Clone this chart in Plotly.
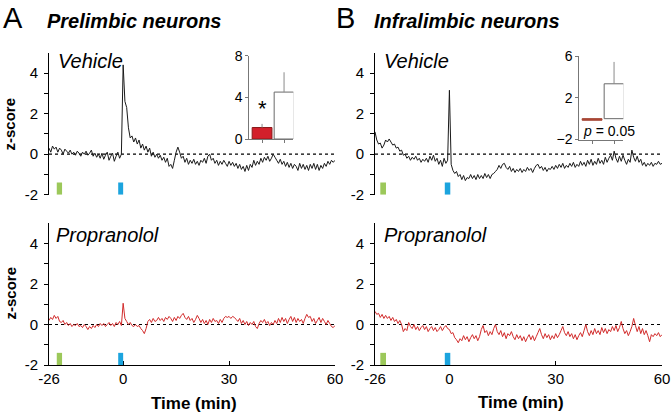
import numpy as np
import plotly.graph_objects as go

# ---------------- data ----------------
# z-score traces sampled every 0.5 min (display time units); pre = before stimulus, post = from 0 onward
tl_pre = [0.3, 0.1, 0.4, 0.25, 0.35, 0.1, 0.3, 0.2, 0.0, 0.25, 0.15, 0.05, 0.2, 0.0, 0.1, -0.05,
          0.15, 0.05, -0.1, 0.1, 0.0, 0.15, -0.05, 0.05, 0.2, -0.1, 0.05, -0.15, 0.0, -0.2, 0.05,
          -0.25, -0.05, 0.1, -0.3, -0.1, 0.05, -0.35, -0.1, 0.1, -0.2, 0.0]
tl_post = [4.4, 2.6, 2.3, 1.3, 0.8, 0.9, 0.6, 0.8, 0.5, 0.7, 0.3, 0.5, 0.2, 0.4, 0.1, 0.3, -0.1, 0.1,
           -0.15, 0.0, -0.2, -0.05, -0.3, -0.15, -0.4, -0.2, -0.6, -0.5, -0.7, -0.3, 0.1, 0.35, 0.1,
           -0.2, -0.1, -0.4, -0.2, -0.5, -0.3, -0.45, -0.25, -0.5, -0.35, -0.55, -0.3, -0.4, -0.2,
           -0.45, -0.1, 0.0, -0.3, -0.2, -0.45, -0.3, -0.55, -0.35, -0.5, -0.3, -0.45, -0.6, -0.35,
           -0.55, -0.4, -0.6, -0.45, -0.7, -0.5, -0.75, -0.6, -0.85, -0.55, -0.8, -0.5, -0.65, -0.3,
           -0.55, -0.35, -0.5, -0.2, -0.4, -0.15, -0.3, -0.1, -0.35, -0.2, 0.0, -0.15, -0.3, -0.45,
           -0.25, -0.5, -0.35, -0.6, -0.4, -0.65, -0.45, -0.7, -0.5, -0.6, -0.8, -0.45, -0.7, -0.5,
           -0.75, -0.55, -0.8, -0.5, -0.7, -0.45, -0.75, -0.5, -0.8, -0.55, -0.7, -0.45, -0.6, -0.35,
           -0.5, -0.3, -0.4, -0.3]

tr_pre = [1.1, 0.7, 0.5, 0.55, 0.3, 0.45, 0.7, 0.6, 0.75, 0.6, 0.45, 0.5, 0.3, 0.35, 0.15, 0.2,
          -0.05, 0.0, -0.2, -0.1, -0.3, -0.15, -0.25, -0.1, -0.3, -0.2, -0.4, -0.25, -0.35, -0.2,
          -0.4, -0.1, -0.3, -0.05, -0.35, -0.2, -0.5, -0.3, -0.6, -0.2, -0.45, -0.3]
tr_post = [3.15, -0.5, -0.8, -0.95, -0.85, -1.1, -1.0, -1.25, -1.05, -1.3, -1.15, -1.2, -1.0, -1.2,
           -1.05, -1.25, -1.0, -1.2, -1.05, -1.2, -0.95, -1.15, -1.0, -1.2, -1.0, -0.95, -0.85, -0.75,
           -0.55, -0.7, -0.5, -0.45, -0.65, -0.75, -0.6, -0.85, -0.7, -0.9, -0.75, -0.85, -0.7, -0.9,
           -0.75, -0.85, -0.65, -0.8, -0.7, -0.9, -0.7, -0.55, -0.5, -0.7, -0.6, -0.8, -0.65, -0.85,
           -0.7, -0.75, -0.6, -0.75, -0.55, -0.7, -0.5, -0.65, -0.45, -0.7, -0.55, -0.65, -0.45, -0.6,
           -0.4, -0.65, -0.5, -0.6, -0.35, -0.55, -0.4, -0.6, -0.3, -0.5, -0.25, -0.55, -0.35, -0.5,
           -0.2, -0.45, -0.3, -0.5, -0.15, -0.4, -0.2, -0.05, -0.3, 0.15, -0.2, -0.4, -0.1, -0.35,
           -0.05, -0.3, -0.5, -0.25, -0.4, 0.2, -0.15, -0.35, -0.1, -0.4, -0.25, -0.55, -0.4, -0.6,
           -0.45, -0.55, -0.4, -0.6, -0.45, -0.5, -0.35, -0.5, -0.45]

bl_pre = [0.2, 0.35, 0.25, 0.45, 0.3, 0.4, 0.15, 0.1, 0.2, 0.0, 0.1, -0.05, 0.05, -0.1, 0.0, -0.05,
          0.05, -0.1, -0.05, -0.15, 0.0, -0.1, -0.25, -0.1, -0.2, -0.05, -0.15, 0.0, -0.1, 0.05,
          -0.05, 0.05, -0.1, 0.0, 0.1, -0.05, 0.05, -0.1, 0.1, 0.0, 0.15, -0.05]
bl_post = [1.05, 0.3, 0.15, 0.0, 0.1, -0.05, -0.1, 0.0, -0.1, -0.05, -0.2, -0.3, -0.45, -0.2, 0.15,
           0.25, 0.1, 0.3, 0.15, 0.2, 0.35, 0.2, 0.3, 0.15, 0.35, 0.25, 0.4, 0.3, 0.15, 0.35, 0.2,
           0.4, 0.3, 0.45, 0.55, 0.35, 0.25, 0.4, 0.2, 0.3, 0.1, 0.25, 0.45, 0.3, 0.1, 0.25, 0.05,
           0.2, 0.0, 0.25, 0.1, 0.3, 0.15, 0.2, 0.05, 0.25, 0.1, 0.3, 0.4, 0.35, 0.4, 0.3, 0.4, 0.35,
           0.25, 0.15, 0.3, 0.05, 0.2, 0.0, 0.15, -0.05, 0.1, 0.0, 0.15, -0.1, -0.2, 0.05, 0.2, 0.1,
           0.25, 0.05, 0.15, -0.05, 0.1, 0.0, 0.2, 0.05, 0.3, 0.1, 0.35, 0.15, 0.3, 0.05, 0.25, 0.4,
           0.15, 0.35, 0.1, 0.3, 0.15, 0.25, 0.05, 0.3, 0.5, 0.35, 0.4, 0.15, 0.3, 0.05, 0.2, 0.35,
           0.1, 0.3, 0.15, 0.0, 0.2, 0.05, -0.1, -0.15, -0.05]

br_pre = [0.65, 0.5, 0.55, 0.35, 0.5, 0.3, 0.45, 0.3, 0.4, 0.2, 0.35, 0.15, 0.25, 0.05, 0.2, 0.0,
          -0.35, -0.2, -0.3, 0.1, -0.1, -0.2, 0.0, -0.25, -0.1, -0.3, -0.15, -0.05, -0.25, -0.1,
          -0.35, -0.2, -0.1, -0.3, -0.15, -0.35, -0.25, -0.1, -0.3, -0.15, -0.05, -0.2]
br_post = [-0.25, -0.45, -0.4, -0.65, -0.75, -0.9, -0.7, -0.8, -0.55, -0.75, -0.6, -0.85, -0.65,
           -0.5, -0.7, -0.55, -0.8, -0.6, -0.25, -0.05, -0.4, -0.3, -0.55, -0.35, -0.5, -0.2, 0.0,
           -0.35, -0.5, -0.3, -0.6, -0.4, -0.7, -0.45, -0.55, -0.35, -0.6, -0.75, -0.5, -0.7, -0.55,
           -0.8, -0.6, -0.85, -0.65, -0.5, -0.75, -0.55, -0.8, -0.6, -0.4, -0.2, -0.5, -0.7, -0.45,
           -0.65, -0.5, -0.75, -0.55, -0.7, -0.45, -0.65, -0.5, -0.3, -0.1, -0.4, -0.55, -0.35, -0.6,
           -0.45, -0.7, -0.5, -0.75, -0.55, -0.4, -0.6, -0.3, 0.0, -0.35, -0.55, -0.3, -0.5, -0.2,
           -0.45, -0.3, -0.5, -0.15, -0.4, -0.2, -0.45, -0.25, -0.35, -0.1, -0.3, -0.05, -0.35,
           -0.15, 0.15, -0.2, -0.45, -0.3, -0.55, -0.35, -0.1, 0.3, -0.05, -0.35, -0.1, -0.45, -0.2,
           -0.5, -0.3, -0.55, -0.85, -0.5, -0.6, -0.45, -0.55, -0.4, -0.6, -0.5]

x_tick_vals = [-21, 0, 30, 60]
x_tick_text = ["-26", "0", "30", "60"]

# inset bar charts: [propranolol, vehicle]
pl_bar_vals = [1.1, 4.5]
pl_bar_err = [0.35, 1.9]
il_bar_vals = [-0.15, 3.35]
il_bar_err = [0.0, 2.1]

FONT = "Liberation Sans, Arial, Helvetica, sans-serif"
BLACK_LINE = "#1a1a1a"
RED_LINE = "#d22b2b"
W, H = 671, 417


def series_xy(pre, post):
    t = [-0.5 * (len(pre) - i) for i in range(len(pre))] + [0.5 * i for i in range(len(post))]
    return t, pre + post


def px(xp):
    return xp / W


def py(yp):
    return 1 - yp / H


fig = go.Figure()

panels = [
    ("x", "y", tl_pre, tl_post, BLACK_LINE),
    ("x2", "y2", tr_pre, tr_post, BLACK_LINE),
    ("x3", "y3", bl_pre, bl_post, RED_LINE),
    ("x4", "y4", br_pre, br_post, RED_LINE),
]
for xa, ya, pre, post, col in panels:
    t, v = series_xy(pre, post)
    fig.add_trace(go.Scatter(x=t, y=v, mode="lines", line=dict(color=col, width=1, simplify=False),
                             xaxis=xa, yaxis=ya, showlegend=False, hoverinfo="skip"))

# inset bars
fig.add_trace(go.Bar(x=[0, 1], y=pl_bar_vals, width=0.9, xaxis="x5", yaxis="y5",
                     marker=dict(color=["#d3202b", "white"], line=dict(color=["#8a1a1a", "#6a6a6a"], width=1)),
                     error_y=dict(type="data", symmetric=False, array=pl_bar_err, arrayminus=[0, 0],
                                  color="#8a8a8a", thickness=1, width=0),
                     showlegend=False, hoverinfo="skip"))
fig.add_trace(go.Bar(x=[0, 1], y=il_bar_vals, width=0.9, xaxis="x6", yaxis="y6",
                     marker=dict(color=["#b5483a", "white"], line=dict(color=["#a0402f", "#6a6a6a"], width=1)),
                     error_y=dict(type="data", symmetric=False, array=il_bar_err, arrayminus=[0, 0],
                                  color="#8a8a8a", thickness=1, width=0),
                     showlegend=False, hoverinfo="skip"))

xdom_l = [px(49), px(335)]
xdom_r = [px(375), px(662)]
ydom_t = [py(194.8), py(52.7)]
ydom_b = [py(365), py(223.3)]

ytick_vals = [-2, -1, 0, 1, 2, 3, 4]
ytick_text = ["-2", "", "0", "", "2", "", "4"]


def main_y(dom, anchor):
    return dict(domain=dom, anchor=anchor, range=[-2, 5], showline=True, linecolor="black", linewidth=1,
                ticks="outside", ticklen=4, tickwidth=1, tickcolor="black", tickvals=ytick_vals,
                ticktext=ytick_text, showgrid=False, zeroline=False, automargin=False,
                tickfont=dict(family=FONT, size=15, color="black"), ticklabelstandoff=3, fixedrange=True)


def main_x(dom, anchor, bottom):
    d = dict(domain=dom, anchor=anchor, range=[-21, 60], showgrid=False, zeroline=False,
             fixedrange=True, automargin=False)
    if bottom:
        d.update(showline=True, linecolor="black", linewidth=1, ticks="inside", ticklen=4,
                 tickcolor="black", tickvals=x_tick_vals, ticktext=x_tick_text,
                 tickfont=dict(family=FONT, size=15, color="black"))
    else:
        d.update(showline=False, ticks="", showticklabels=False)
    return d


def inset_axes(xdom, ydom, xanchor, yanchor, yrange, yticks):
    xa = dict(domain=xdom, anchor=yanchor, range=[-0.58, 1.42], showline=True, linecolor="#777",
              linewidth=1, ticks="outside", ticklen=3, tickcolor="#777", tickvals=[0, 1],
              showticklabels=False, showgrid=False, zeroline=False, fixedrange=True, automargin=False)
    ya = dict(domain=ydom, anchor=xanchor, range=yrange, showline=True, linecolor="#777", linewidth=1,
              ticks="outside", ticklen=3, tickcolor="#777", tickvals=yticks, showgrid=False,
              zeroline=False, tickfont=dict(family=FONT, size=14, color="black"), fixedrange=True,
              automargin=False)
    return xa, ya


x5, y5 = inset_axes([px(249.3), px(293.3)], [py(139), py(55.6)], "x5", "y5", [0, 8], [0, 4, 8])
x6, y6 = inset_axes([px(579.3), px(623.3)], [py(139.5), py(56.2)], "x6", "y6", [-2, 6], [-2, 2, 6])

# dotted zero lines and stimulus markers
shapes = []
for xa, ya in [("x", "y"), ("x2", "y2"), ("x3", "y3"), ("x4", "y4")]:
    shapes.append(dict(type="line", xref=xa, yref=ya, x0=-21, x1=60, y0=0, y1=0,
                       line=dict(color="black", width=1.2, dash="dot"), layer="below"))
green_pos = {"x": (-18.8, -17.3), "x2": (-19.5, -17.9), "x3": (-18.8, -17.3), "x4": (-19.5, -17.9)}
blue_pos = {"x": (-1.4, 0.0), "x2": (-1.3, 0.25), "x3": (-1.4, 0.0), "x4": (-1.3, 0.25)}
for xa, ya in [("x", "y"), ("x2", "y2"), ("x3", "y3"), ("x4", "y4")]:
    g0, g1 = green_pos[xa]
    b0, b1 = blue_pos[xa]
    shapes.append(dict(type="rect", xref=xa, yref=ya, x0=g0, x1=g1, y0=-2, y1=-1.4,
                       fillcolor="#9cc85a", line=dict(width=0)))
    shapes.append(dict(type="rect", xref=xa, yref=ya, x0=b0, x1=b1, y0=-2, y1=-1.4,
                       fillcolor="#1ca4de", line=dict(width=0)))


def ann(text, x, y, size, xanchor="left", yanchor="middle", angle=0, xref="paper", yref="paper"):
    return dict(text=text, x=x, y=y, xref=xref, yref=yref, xanchor=xanchor, yanchor=yanchor,
                showarrow=False, textangle=angle, font=dict(family=FONT, size=size, color="black"))


annotations = [
    ann("A", px(1), 1.0, 29, yanchor="top"),
    ann("<b><i>Prelimbic neurons</i></b>", px(45), py(20.5), 20),
    ann("B", px(334), 1.0, 29, yanchor="top"),
    ann("<b><i>Infralimbic neurons</i></b>", px(372), py(20.5), 20),
    ann("<i>Vehicle</i>", px(56), py(61), 20),
    ann("<i>Vehicle</i>", px(382), py(61), 20),
    ann("<i>Propranolol</i>", px(54), py(235), 20),
    ann("<i>Propranolol</i>", px(382), py(235), 20),
    ann("<b>z-score</b>", px(9.5), py(124), 15, xanchor="center", angle=-90),
    ann("<b>z-score</b>", px(9.5), py(293), 15, xanchor="center", angle=-90),
    ann("<b>Time (min)</b>", px(194), py(403), 17, xanchor="center"),
    ann("<b>Time (min)</b>", px(521), py(402), 17, xanchor="center"),
    ann("*", 0, 1.5, 22, xanchor="center", yanchor="bottom", xref="x5", yref="y5"),
    ann("<i>p</i> = 0.05", px(609), py(131), 14, xanchor="center"),
]

fig.update_layout(
    width=W, height=H, margin=dict(l=0, r=0, t=0, b=0, autoexpand=False),
    paper_bgcolor="white", plot_bgcolor="rgba(0,0,0,0)",
    xaxis=main_x(xdom_l, "y", False), yaxis=main_y(ydom_t, "x"),
    xaxis2=main_x(xdom_r, "y2", False), yaxis2=main_y(ydom_t, "x2"),
    xaxis3=main_x(xdom_l, "y3", True), yaxis3=main_y(ydom_b, "x3"),
    xaxis4=main_x(xdom_r, "y4", True), yaxis4=main_y(ydom_b, "x4"),
    xaxis5=x5, yaxis5=y5, xaxis6=x6, yaxis6=y6,
    shapes=shapes, annotations=annotations, bargap=0.1,
    font=dict(family=FONT, color="black"),
)

fig.write_html("out.html", config={"displayModeBar": False, "staticPlot": True},
               post_script="document.body.style.margin='0';document.body.style.padding='0';"
                           "document.documentElement.style.overflow='hidden';")
